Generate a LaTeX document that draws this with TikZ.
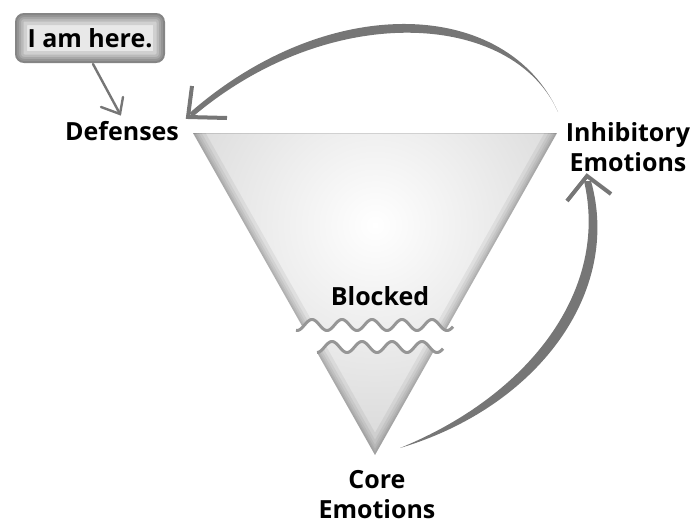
\documentclass[tikz,border=0pt]{standalone}
\usepackage{fontspec}
\newfontfamily\lblfont{Open Sans}
\definecolor{arrowgray}{RGB}{118,118,118}
\definecolor{wavegray}{RGB}{150,150,150}
\definecolor{conegray}{RGB}{182,182,182}
\definecolor{boxfill}{RGB}{232,232,232}

\begin{document}
\begin{tikzpicture}[x=1pt,y=-1pt,
  lbl/.style={font=\lblfont\bfseries\fontsize{25}{30}\selectfont, inner sep=0pt, align=center, text=black},
  brush/.style={fill=arrowgray, draw=none},
  tipline/.style={draw=arrowgray, line width=4pt, line cap=butt, line join=miter},
  thinline/.style={draw=arrowgray, line width=2.4pt, line cap=round, line join=miter},
  wavy/.style={draw=wavegray, line width=3pt, line join=round, samples=160, smooth},
  edgeshade/.style={draw=black, opacity=0.055}]
\useasboundingbox (0,0) rectangle (696,525);

% corners of the cone
\coordinate (tl) at (193,133);
\coordinate (tr) at (557,133);
\coordinate (apex) at (375,455);

% upper part of the cone, cut by the first wave
\begin{scope}
  \clip (tl) -- (tr) -- (apex) -- cycle;
  \clip (150,120) -- (600,120) -- plot[domain=600:150, samples=200] (\x,{325-5.5*cos(12*(\x-312))}) -- cycle;
  \shade[inner color=white, outer color=conegray] (375,225) circle (430);
  \foreach \w in {22,15,10,6,3} \draw[edgeshade, line width=\w pt] (tl) -- (apex) -- (tr);
  \draw[black, opacity=0.12, line width=1.2pt] (tl) -- (tr);
\end{scope}

% lower part of the cone, below the second wave
\begin{scope}
  \clip (tl) -- (tr) -- (apex) -- cycle;
  \clip (150,480) -- plot[domain=150:600, samples=200] (\x,{347-5.5*cos(12*(\x-332))}) -- (600,480) -- cycle;
  \shade[inner color=white, outer color=conegray] (375,225) circle (430);
  \foreach \w in {22,15,10,6,3} \draw[edgeshade, line width=\w pt] (tl) -- (apex) -- (tr);
\end{scope}

% the two wavy cuts
\draw[wavy, domain=296:453] plot (\x,{325-5.5*cos(12*(\x-312))});
\draw[wavy, domain=317:443] plot (\x,{347-5.5*cos(12*(\x-332))});

% speech box
\begin{scope}
  \clip[rounded corners=9pt] (15,13) rectangle (165,63);
  \fill[boxfill] (15,13) rectangle (165,63);
  \foreach \w in {24,17,12,8,4} \draw[black, opacity=0.1, line width=\w pt, rounded corners=9pt] (15,13) rectangle (165,63);
\end{scope}

% labels
\node[lbl, anchor=base] (here) at (90,47) {I am here.};
\node[lbl, anchor=base] (def) at (122,140) {Defenses};
\node[lbl, anchor=base] (blk) at (380,305) {Blocked};
\node[lbl, anchor=north] (inh) at (628,122) {Inhibitory\\Emotions};
\node[lbl, anchor=north] (core) at (377,470) {Core\\Emotions};

% arrow ends
\coordinate (hereFoot) at (93,64);
\coordinate (defTip) at (120,114);
\coordinate (inhTail) at (558,112);
\coordinate (defHead) at (188,117);
\coordinate (coreTail) at (400,448);
\coordinate (inhHead) at (587,176);

% pointer from the speech box to Defenses
\draw[thinline] (hereFoot) -- (defTip);
\draw[thinline] (101,107) -- (defTip) -- (123,97);

% brush arc from Inhibitory Emotions back to Defenses
\fill[brush] (inhTail) .. controls (507,-1) and (330,-10) .. (189.4,113.1)
   -- (192.6,116.9) .. controls (330,0) and (513,11) .. (inhTail) -- cycle;
\draw[tipline] (192,86) -- (defHead) -- (227,118);

% brush arc from Core Emotions up to Inhibitory Emotions
\fill[brush] (coreTail) .. controls (538,407) and (622,292) .. (591,181)
   -- (584,181) .. controls (609,288) and (532,394) .. (coreTail) -- cycle;
\draw[tipline] (567,201) -- (inhHead) -- (611,194);
\end{tikzpicture}
\end{document}
